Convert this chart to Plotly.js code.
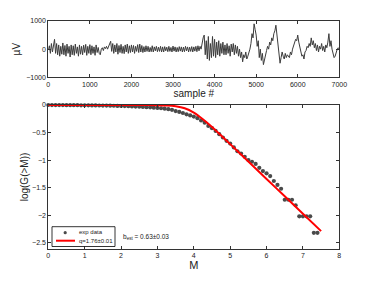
<!DOCTYPE html>
<html>
<head>
<meta charset="utf-8">
<script src="https://cdn.plot.ly/plotly-3.0.1.min.js"></script>
<style>html,body{margin:0;padding:0;background:#fff;}#chart{width:374px;height:281px;}</style>
</head>
<body>
<div id="chart"></div>
<script>
// ---- top panel: EEG trace (envelope read every 25 samples) ----
const sampleStep = 25;
const signalUV = [
  0,120,-150,200,-100,250,350,-150,200,-200,
  150,-250,100,-180,220,-200,130,-250,180,-150,
  100,-280,150,-200,120,-220,180,-150,80,-250,
  150,-180,100,-200,140,-120,170,-220,100,-150,
  160,-200,120,-150,80,-220,150,-120,60,-150,
  -200,0,50,-50,80,20,100,0,120,200,
  280,-80,200,-150,150,-100,200,-180,130,-120,
  170,-150,100,-160,150,-100,180,-150,120,-120,
  150,-100,130,-150,100,-80,160,-120,180,-100,
  130,-120,90,-100,120,-80,100,-100,60,-90,
  120,-100,80,-60,100,-90,70,-80,100,-100,
  80,-100,90,-60,70,-90,100,-80,60,-100,
  110,-70,80,-100,60,-90,90,-70,80,-100,
  70,-90,100,-60,80,-100,70,-80,90,-100,
  80,-70,100,-90,120,-60,100,0,250,400,
  500,-200,300,-350,450,-400,200,-300,450,-250,
  350,-300,250,-200,300,-250,200,-150,250,-200,
  150,-200,200,-150,120,-250,180,-100,200,-200,
  150,-150,100,-250,0,-300,-100,-450,-200,-300,
  -100,-350,-250,-150,0,200,550,400,900,700,
  500,100,300,-300,0,-400,-150,-550,-350,-200,
  -50,100,0,250,150,400,300,550,650,850,
  500,200,-200,-500,-300,-100,-250,-350,-150,-300,
  -200,-250,-300,-100,-200,0,100,200,350,300,
  500,250,100,-150,-250,-200,-350,-100,-50,100,
  50,200,100,400,150,300,50,200,-50,150,
  -100,100,0,200,-50,100,-100,150,50,250,
  550,100,300,0,-200,-300,-250,-100,0,50,
  0
];
const sampleNums = signalUV.map((v, i) => i * sampleStep);

// ---- bottom panel: cumulative distribution ----
const expM = [
  0.0,0.1,0.2,0.3,0.4,0.5,0.6,0.7,0.8,0.9,
  1.0,1.1,1.2,1.3,1.4,1.5,1.6,1.7,1.8,1.9,
  2.0,2.1,2.2,2.3,2.4,2.5,2.6,2.7,2.8,2.9,
  3.0,3.1,3.2,3.3,3.4,3.5,3.6,3.7,3.8,3.9,
  4.0,4.1,4.2,4.3,4.4,4.5,4.6,4.7,4.8,4.9,
  5.0,5.1,5.2,5.3,5.4,5.5,5.6,5.7,5.8,5.9,
  6.0,6.1,6.2,6.3,6.4,6.5,6.6,6.7,6.8,6.9,
  7.0,7.1,7.2,7.3,7.4,7.5
];
const expLogG = [
  0,-0.001,-0.001,-0.002,-0.002,-0.003,-0.003,-0.004,-0.004,-0.005,
  -0.005,-0.006,-0.007,-0.008,-0.009,-0.010,-0.011,-0.012,-0.014,-0.016,
  -0.018,-0.020,-0.022,-0.025,-0.028,-0.031,-0.035,-0.039,-0.043,-0.048,
  -0.053,-0.059,-0.066,-0.075,-0.087,-0.11,-0.125,-0.145,-0.17,-0.19,
  -0.21,-0.24,-0.28,-0.32,-0.38,-0.42,-0.47,-0.53,-0.59,-0.65,
  -0.70,-0.77,-0.84,-0.88,-0.94,-1.00,-1.03,-1.07,-1.14,-1.20,
  -1.24,-1.29,-1.38,-1.45,-1.52,-1.72,-1.72,-1.72,-1.82,-2.02,
  -2.02,-2.02,-2.02,-2.32,-2.32,-2.62
];
const fitM    = [0, 1, 2, 2.5, 3, 3.25, 3.5, 3.75, 4, 4.25, 4.5, 4.75, 5, 5.5, 6, 6.5, 7, 7.5];
const fitLogG = [0, 0, 0, -0.001, -0.003, -0.008, -0.022, -0.06, -0.14, -0.26, -0.40, -0.555, -0.71, -1.027, -1.342, -1.658, -1.974, -2.29];

const W = 374, H = 281;
const px = x => x / W, py = y => 1 - y / H;
const FONT = 'Liberation Sans, Arial, Helvetica, sans-serif';
const axCol = '#333333';

function axisBase(extra) {
  return Object.assign({
    showline: true, linecolor: axCol, linewidth: 1, mirror: 'ticks',
    ticks: 'inside', ticklen: 3, tickcolor: axCol, tickwidth: 1,
    showgrid: false, zeroline: false, automargin: false,
    tickfont: {family: FONT, size: 7, color: '#222'}
  }, extra);
}

const traces = [
  {x: sampleNums, y: signalUV, type: 'scatter', mode: 'lines',
   line: {color: '#3c3c3c', width: 1}, xaxis: 'x', yaxis: 'y',
   showlegend: false, hoverinfo: 'skip'},
  {x: expM, y: expLogG, type: 'scatter', mode: 'markers', name: 'exp data',
   marker: {color: '#4a4a4a', size: 4.2}, xaxis: 'x2', yaxis: 'y2',
   cliponaxis: false, showlegend: false},
  {x: fitM, y: fitLogG, type: 'scatter', mode: 'lines', name: 'q=1.76±0.01',
   line: {color: '#ff0000', width: 2, shape: 'spline', smoothing: 0.6},
   xaxis: 'x2', yaxis: 'y2', showlegend: false}
];

const layout = {
  width: W, height: H,
  margin: {l: 0, r: 0, t: 0, b: 0},
  paper_bgcolor: '#fff', plot_bgcolor: '#fff',
  showlegend: false,
  font: {family: FONT, color: '#222'},
  xaxis: axisBase({domain: [px(48.3), px(339.3)], range: [0, 7000], anchor: 'y',
    tickvals: [0,1000,2000,3000,4000,5000,6000,7000],
    title: {text: 'sample #', font: {family: FONT, size: 10, color: '#222'}, standoff: 0}}),
  yaxis: axisBase({domain: [py(77.3), py(21)], range: [-1000, 1000], anchor: 'x',
    tickvals: [-1000, 0, 1000],
    title: {text: 'µV', font: {family: FONT, size: 10, color: '#222'}, standoff: 3}}),
  xaxis2: axisBase({domain: [px(48.3), px(339.3)], range: [0, 8], anchor: 'y2',
    tickvals: [0,1,2,3,4,5,6,7,8],
    title: {text: 'M', font: {family: FONT, size: 11, color: '#222'}, standoff: 1}}),
  yaxis2: axisBase({domain: [py(249), py(105)], range: [-2.614, 0], anchor: 'x2',
    tickvals: [0, -0.5, -1, -1.5, -2, -2.5],
    title: {text: 'log(G(>M))', font: {family: FONT, size: 10, color: '#222'}, standoff: 1}}),
  shapes: [
    {type: 'rect', xref: 'paper', yref: 'paper', x0: px(52), x1: px(115), y0: py(246.5), y1: py(226.7),
     fillcolor: '#fff', line: {color: '#000', width: 0.8}, layer: 'above'},
    {type: 'circle', xref: 'paper', yref: 'paper', x0: px(63.6), x1: px(66.8), y0: py(234.3), y1: py(231.1),
     fillcolor: '#4a4a4a', line: {width: 0}, layer: 'above'},
    {type: 'line', xref: 'paper', yref: 'paper', x0: px(56), x1: px(75), y0: py(240.7), y1: py(240.7),
     line: {color: '#ff0000', width: 2}, layer: 'above'}
  ],
  annotations: [
    {xref: 'paper', yref: 'paper', x: px(77), y: py(232.5), xanchor: 'left', yanchor: 'middle',
     text: 'exp data', showarrow: false, font: {family: FONT, size: 6, color: '#222'}},
    {xref: 'paper', yref: 'paper', x: px(77), y: py(240.7), xanchor: 'left', yanchor: 'middle',
     text: 'q=1.76±0.01', showarrow: false, font: {family: FONT, size: 6, color: '#222'}},
    {xref: 'paper', yref: 'paper', x: px(121), y: py(237), xanchor: 'left', yanchor: 'middle',
     text: 'b<sub>est</sub> = 0.63±0.03', showarrow: false, font: {family: FONT, size: 6.5, color: '#222'}}
  ]
};

Plotly.newPlot('chart', traces, layout, {staticPlot: true, displayModeBar: false});
</script>
</body>
</html>
